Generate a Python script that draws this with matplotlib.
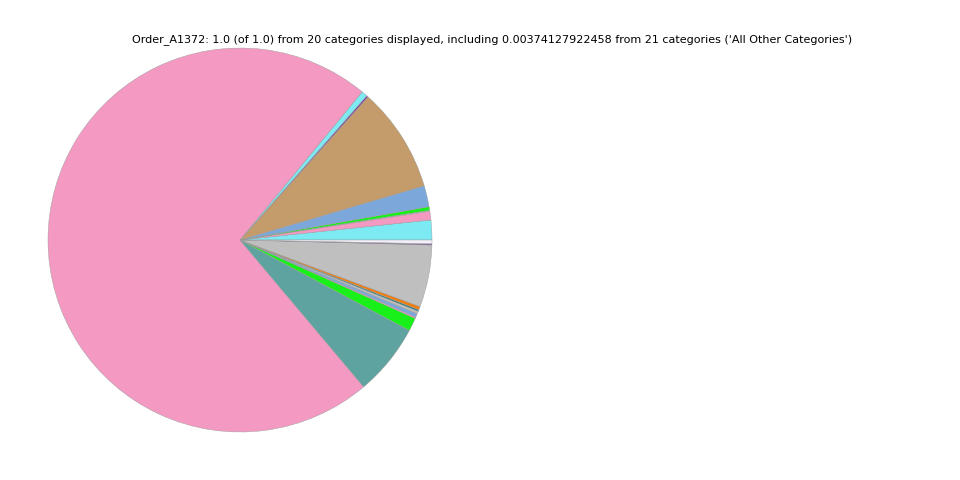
import numpy as np
import matplotlib.pyplot as plt

# slice sizes (degrees), counterclockwise from 3 o'clock
slice_deg = [6.0, 2.6, 0.3, 1.1, 6.4, 31.8, 0.5, 1.8, 259.6, 21.8,
             4.0, 0.4, 1.1, 0.8, 0.5, 1.0, 18.8, 0.3, 0.1, 1.1]
slice_colors = ["#7de9f2", "#f49ac2", "#bfbfbf", "#19f01a", "#7ba7db",
                "#c49c6b", "#7b3fa0", "#7de9f2", "#f49ac2", "#5fa3a0",
                "#19f01a", "#f49ac2", "#7ba7db", "#bfbfbf", "#2a7f7f",
                "#f07d0f", "#bfbfbf", "#7b3fa0", "#bfbfbf", "#f2f0fa"]
title = ("Order_A1372: 1.0 (of 1.0) from 20 categories displayed, including "
         "0.00374127922458 from 21 categories ('All Other Categories')")

values = np.array(slice_deg) / sum(slice_deg)

fig = plt.figure(figsize=(9.6, 4.8), dpi=100)
ax = fig.add_axes([48 / 960, 48 / 480, 384 / 960, 384 / 480])
ax.pie(values, colors=slice_colors, startangle=0, counterclock=True,
       radius=1.0, wedgeprops=dict(edgecolor="#999999", linewidth=0.3))
ax.set_xlim(-1, 1)
ax.set_ylim(-1, 1)
ax.set_aspect("auto")
ax.axis("off")

fig.text(492 / 960, 1 - 40 / 480, title, ha="center", va="center", fontsize=8)

fig.savefig("out.png", dpi=100)
